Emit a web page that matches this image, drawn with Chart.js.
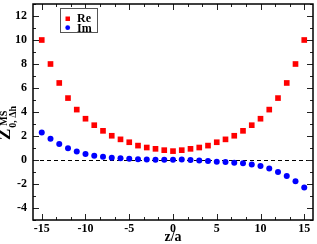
<!DOCTYPE html>
<html>
<head>
<meta charset="utf-8">
<script src="https://cdn.jsdelivr.net/npm/chart.js@4.4.1/dist/chart.umd.min.js"></script>
<style>
html, body { margin: 0; padding: 0; background: #fff; }
#wrap { width: 317px; height: 244px; position: relative; }
</style>
</head>
<body>
<div id="wrap"><canvas id="c"></canvas></div>
<script>
// z/a positions and the two series
const zVals = [-15,-14,-13,-12,-11,-10,-9,-8,-7,-6,-5,-4,-3,-2,-1,0,1,2,3,4,5,6,7,8,9,10,11,12,13,14,15];
const reVals = [10.0,8.0,6.42,5.16,4.2,3.44,2.9,2.43,2.02,1.72,1.48,1.2,1.04,0.93,0.82,0.74,0.82,0.93,1.04,1.2,1.48,1.72,2.02,2.43,2.9,3.44,4.2,5.16,6.42,8.0,10.0];
const imVals = [2.3,1.78,1.34,0.98,0.71,0.49,0.36,0.27,0.19,0.14,0.11,0.07,0.04,0.03,0.02,0.02,0.04,0.01,-0.05,-0.08,-0.14,-0.16,-0.22,-0.27,-0.38,-0.49,-0.71,-1.0,-1.34,-1.78,-2.3];
const xTicks = [-15,-10,-5,0,5,10,15];
const yTicks = [-4,-2,0,2,4,6,8,10,12];
const seriesNames = ['Re', 'Im'];

const FONT = '"Liberation Serif", "DejaVu Serif", serif';

// frame, inward ticks, zero line, legend and y title
const decor = {
    id: 'decor',
    beforeDatasetsDraw(chart) {
        const {ctx, chartArea: a, scales: {y}} = chart;
        ctx.save();
        // dashed zero line
        ctx.strokeStyle = '#000';
        ctx.lineWidth = 1;
        ctx.setLineDash([4, 3]);
        const y0 = Math.round(y.getPixelForValue(0)) + 0.5;
        ctx.beginPath(); ctx.moveTo(a.left, y0); ctx.lineTo(a.right, y0); ctx.stroke();
        ctx.setLineDash([]);
        ctx.restore();
    },
    afterDatasetsDraw(chart) {
        const {ctx, chartArea: a, scales: {x, y}} = chart;
        ctx.save();
        ctx.strokeStyle = '#222';
        ctx.lineWidth = 1;
        // x ticks (major every 5, two minors between)
        for (let v = -15; v <= 15.01; v += 5 / 3) {
            const major = Math.abs(v / 5 - Math.round(v / 5)) < 0.01;
            const len = major ? 6 : 3;
            const px = Math.round(x.getPixelForValue(v)) + 0.5;
            ctx.beginPath();
            ctx.moveTo(px, a.bottom); ctx.lineTo(px, a.bottom - len);
            ctx.moveTo(px, a.top); ctx.lineTo(px, a.top + len);
            ctx.stroke();
        }
        // y ticks (major every 2, minor every 1)
        for (let v = -5; v <= 13; v++) {
            const len = v % 2 === 0 ? 6 : 3;
            const py = Math.round(y.getPixelForValue(v)) + 0.5;
            ctx.beginPath();
            ctx.moveTo(a.left, py); ctx.lineTo(a.left + len, py);
            ctx.moveTo(a.right, py); ctx.lineTo(a.right - len, py);
            ctx.stroke();
        }
        // frame
        ctx.strokeStyle = '#000';
        ctx.lineWidth = 1.5;
        ctx.strokeRect(a.left, a.top, a.right - a.left, a.bottom - a.top);

        // legend
        ctx.fillStyle = '#fff';
        ctx.fillRect(60, 9, 37, 24);
        ctx.strokeStyle = '#555';
        ctx.lineWidth = 1;
        ctx.strokeRect(60.5, 8.5, 37, 24);
        ctx.fillStyle = '#ff0000';
        ctx.fillRect(65.5, 16.5, 4.5, 4.5);
        ctx.fillStyle = '#0000ff';
        ctx.beginPath(); ctx.arc(67.7, 27.7, 2.4, 0, Math.PI * 2); ctx.fill();
        ctx.fillStyle = '#000';
        ctx.font = 'bold 12px ' + FONT;
        ctx.textBaseline = 'alphabetic';
        ctx.textAlign = 'left';
        ctx.fillText(seriesNames[0], 77, 21.5);
        ctx.fillText(seriesNames[1], 77, 31.5);

        // y title Z^MS_{0,Δh}
        ctx.translate(10, 140);
        ctx.rotate(-Math.PI / 2);
        ctx.font = 'bold 17px ' + FONT;
        ctx.fillText('Z', 0, 0);
        const w = ctx.measureText('Z').width;
        ctx.font = 'bold 10px ' + FONT;
        ctx.fillText('0, \u0394h', w + 1, 6);
        ctx.fillText('MS', w + 3, -3);
        ctx.restore();

        // x title
        ctx.save();
        ctx.fillStyle = '#000';
        ctx.font = 'bold 14px ' + FONT;
        ctx.textAlign = 'center';
        ctx.textBaseline = 'alphabetic';
        ctx.fillText('z/a', x.getPixelForValue(0), 241);
        ctx.restore();
    }
};

new Chart(document.getElementById('c'), {
    type: 'scatter',
    data: {
        datasets: [{
            label: seriesNames[0],
            data: zVals.map((z, i) => ({x: z, y: reVals[i]})),
            pointStyle: 'rect',
            pointRadius: 4,
            backgroundColor: '#ff0000',
            borderWidth: 0
        }, {
            label: seriesNames[1],
            data: zVals.map((z, i) => ({x: z, y: imVals[i]})),
            pointStyle: 'circle',
            pointRadius: 3,
            backgroundColor: '#0000ff',
            borderWidth: 0
        }]
    },
    options: {
        responsive: true,
        maintainAspectRatio: false,
        animation: false,
        layout: {padding: {top: 1, right: 1.5, left: 0, bottom: 0}},
        plugins: {legend: {display: false}, tooltip: {enabled: false}},
        scales: {
            x: {
                type: 'linear', min: -16, max: 16,
                afterBuildTicks: s => { s.ticks = xTicks.map(v => ({value: v})); },
                afterFit: s => { s.height = 24; s.paddingLeft = 0; s.paddingRight = 0; },
                grid: {display: false, drawTicks: false},
                border: {display: false},
                ticks: {padding: 2, color: '#000', font: {family: FONT, size: 12, weight: 'bold'}}
            },
            y: {
                type: 'linear', min: -5, max: 13,
                afterBuildTicks: s => { s.ticks = yTicks.map(v => ({value: v})); },
                afterFit: s => { s.width = 33; s.paddingTop = 0; s.paddingBottom = 0; },
                grid: {display: false, drawTicks: false},
                border: {display: false},
                ticks: {padding: 6, color: '#000', font: {family: FONT, size: 12, weight: 'bold'}}
            }
        }
    },
    plugins: [decor]
});
</script>
</body>
</html>
